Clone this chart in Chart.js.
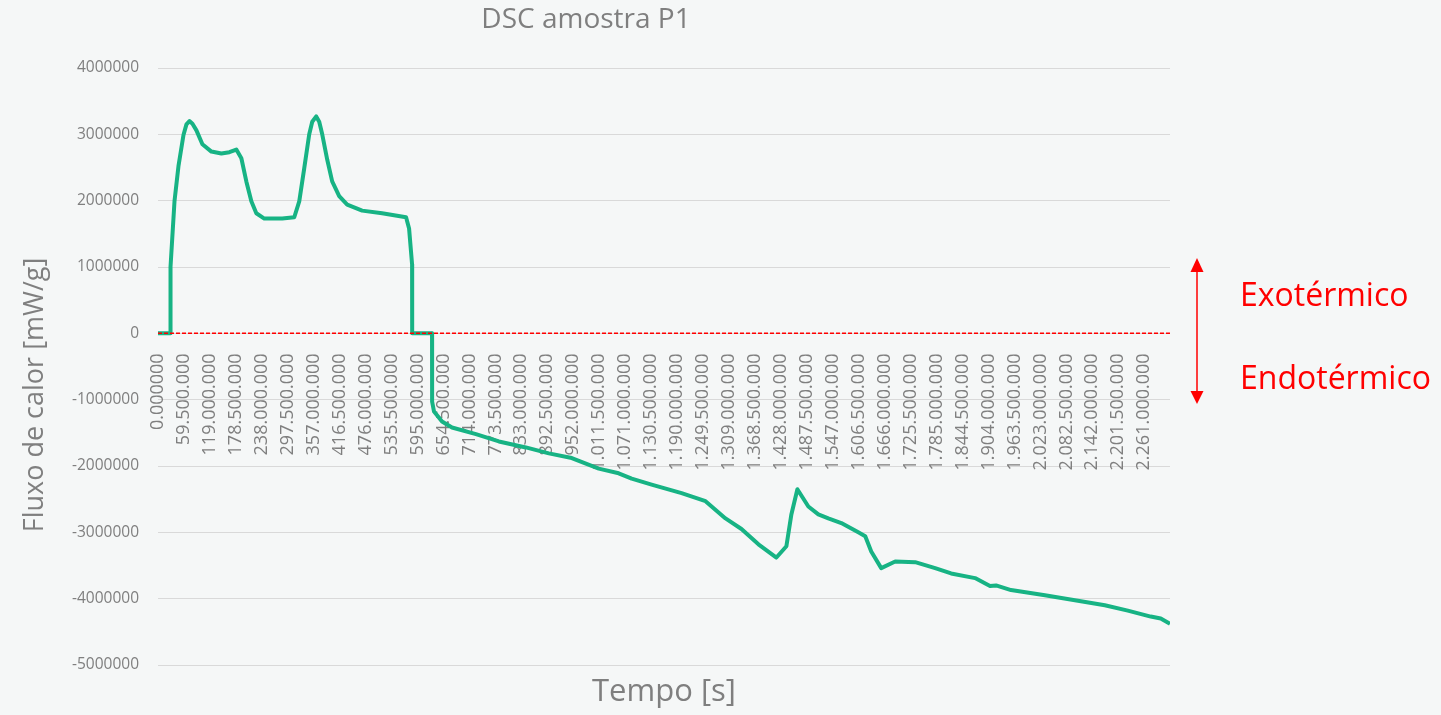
<!DOCTYPE html>
<html>
<head>
<meta charset="utf-8">
<script src="https://cdn.jsdelivr.net/npm/chart.js@4/dist/chart.umd.min.js"></script>
<style>
  body { margin: 0; background: #f5f7f7; }
  #wrap { width: 1441px; height: 715px; }
</style>
</head>
<body>
<div id="wrap"><canvas id="dsc"></canvas></div>
<script>
// tempo [s] (x 10^6) and fluxo de calor [mW/g] (x 10^6)
const tempo = [0, 28.6, 28.7, 37.8, 46.9, 58.4, 65.2, 72.1, 79.0, 88.1,
  101.8, 122.4, 145.3, 163.6, 179.6,
  191.1, 202.5, 214.0, 225.4, 243.7, 284.9, 312.4, 323.8, 335.3, 346.7,
  353.6, 362.7, 369.6, 376.5, 387.9, 399.3, 415.4, 433.7, 468.0, 513.8, 568.7,
  575.6, 582.5, 582.7, 628.2, 628.4, 632.8, 651.1, 674.0, 728.9, 781.5,
  843.3, 896.0, 948.6, 1010.4, 1056.1, 1085.9, 1131.6, 1200.3, 1255.2, 1301.0,
  1337.6, 1376.5, 1417.7, 1440.6, 1452.0, 1465.8, 1490.9, 1513.8, 1536.7, 1566.5,
  1605.4, 1621.4, 1635.1, 1658.0, 1690.0, 1735.8, 1781.6, 1818.2, 1873.1, 1907.4,
  1921.2, 1955.5, 2033.3, 2108.9, 2170.6, 2223.3, 2275.9, 2298.8, 2320.0];
const fluxo = [0, 0, 1.00, 1.99, 2.52, 2.99, 3.15, 3.20, 3.16, 3.06,
  2.85, 2.74, 2.71, 2.73, 2.77,
  2.64, 2.29, 1.99, 1.81, 1.73, 1.73, 1.75, 1.99, 2.49, 3.00,
  3.19, 3.27, 3.19, 3.00, 2.62, 2.29, 2.07, 1.94, 1.85, 1.81, 1.75,
  1.58, 1.04, 0, 0, -1.03, -1.18, -1.33, -1.42, -1.52, -1.63,
  -1.72, -1.81, -1.88, -2.04, -2.11, -2.19, -2.28, -2.41, -2.53, -2.79,
  -2.95, -3.18, -3.38, -3.21, -2.73, -2.35, -2.61, -2.73, -2.79, -2.86,
  -3.00, -3.06, -3.29, -3.54, -3.44, -3.45, -3.54, -3.62, -3.69, -3.81,
  -3.80, -3.87, -3.95, -4.03, -4.10, -4.18, -4.27, -4.30, -4.38];

const tempoTicks = ["0.000000", "59.500.000", "119.000.000", "178.500.000", "238.000.000",
  "297.500.000", "357.000.000", "416.500.000", "476.000.000", "535.500.000",
  "595.000.000", "654.500.000", "714.000.000", "773.500.000", "833.000.000",
  "892.500.000", "952.000.000", "1.011.500.000", "1.071.000.000", "1.130.500.000",
  "1.190.000.000", "1.249.500.000", "1.309.000.000", "1.368.500.000", "1.428.000.000",
  "1.487.500.000", "1.547.000.000", "1.606.500.000", "1.666.000.000", "1.725.500.000",
  "1.785.000.000", "1.844.500.000", "1.904.000.000", "1.963.500.000", "2.023.000.000",
  "2.082.500.000", "2.142.000.000", "2.201.500.000", "2.261.000.000"];
const fluxoMin = -5000000, fluxoMax = 4000000, fluxoStep = 1000000;

const gray = '#7f7f7f';
const font = '"Open Sans", sans-serif';

const points = tempo.map((t, i) => ({ x: t * 1e6, y: fluxo[i] * 1e6 }));
const tMax = tempo[tempo.length - 1] * 1e6;

// background, y title, chart title, exo/endo arrow
const extras = {
  id: 'extras',
  beforeDraw(chart) {
    const c = chart.ctx;
    c.save();
    c.fillStyle = '#f5f7f7';
    c.fillRect(0, 0, chart.width, chart.height);
    c.restore();
  },
  afterDraw(chart) {
    const c = chart.ctx;
    const a = chart.chartArea;
    c.save();
    c.fillStyle = gray;
    c.textAlign = 'center';
    c.textBaseline = 'middle';
    c.font = '28px ' + font;
    c.fillText('DSC amostra P1', 586, 20);

    c.save();
    c.translate(35, 395);
    c.rotate(-Math.PI / 2);
    c.font = '27px ' + font;
    c.fillText('Fluxo de calor [mW/g]', 0, 0);
    c.restore();

    const ax = a.right + 27, top = 258, bot = 404;
    c.strokeStyle = '#ff0000';
    c.fillStyle = '#ff0000';
    c.lineWidth = 1.5;
    c.beginPath();
    c.moveTo(ax, top + 10);
    c.lineTo(ax, bot - 10);
    c.stroke();
    c.beginPath();
    c.moveTo(ax, top); c.lineTo(ax - 6.5, top + 14); c.lineTo(ax + 6.5, top + 14);
    c.closePath(); c.fill();
    c.beginPath();
    c.moveTo(ax, bot); c.lineTo(ax - 6.5, bot - 13); c.lineTo(ax + 6.5, bot - 13);
    c.closePath(); c.fill();

    c.textAlign = 'left';
    c.font = '32px ' + font;
    c.fillText('Exotérmico', a.right + 70, 297);
    c.fillText('Endotérmico', a.right + 70, 380);
    c.restore();
  }
};

new Chart(document.getElementById('dsc'), {
  type: 'line',
  data: {
    datasets: [
      {
        label: 'DSC amostra P1',
        data: points,
        borderColor: '#17b384',
        borderWidth: 4,
        borderJoinStyle: 'round',
        pointRadius: 0,
        tension: 0,
        order: 2
      },
      {
        label: 'zero',
        data: [{ x: tempo[0] * 1e6, y: 0 }, { x: tMax, y: 0 }],
        borderColor: '#ff0000',
        borderWidth: 1.5,
        borderDash: [4, 2],
        pointRadius: 0,
        order: 1
      }
    ]
  },
  options: {
    responsive: true,
    maintainAspectRatio: false,
    animation: false,
    layout: { padding: { top: 68, right: 271, left: 0, bottom: 0 } },
    plugins: {
      legend: { display: false },
      tooltip: { enabled: false }
    },
    scales: {
      x: {
        type: 'linear',
        position: { y: 0 },
        min: 0,
        max: tMax,
        afterBuildTicks: (s) => {
          s.ticks = tempoTicks.map(t => ({ value: Number(t.replace(/\./g, '')) }));
        },
        grid: { display: false },
        border: { display: false },
        ticks: {
          autoSkip: false,
          minRotation: 90,
          maxRotation: 90,
          padding: 12,
          color: gray,
          font: { family: font, size: 18 },
          callback: (v, i) => tempoTicks[i]
        }
      },
      x2: {
        type: 'linear',
        position: 'bottom',
        afterFit: (s) => { s.height = 50; },
        grid: { display: false },
        border: { display: false },
        ticks: { display: false },
        title: {
          display: true,
          text: 'Tempo [s]',
          color: gray,
          font: { family: font, size: 31 },
          padding: { top: 0, bottom: 4 }
        }
      },
      y: {
        min: fluxoMin,
        max: fluxoMax,
        afterFit: (s) => { s.width = 158; },
        grid: { color: '#d9d9d9', drawTicks: false },
        border: { display: false },
        ticks: {
          stepSize: fluxoStep,
          padding: 19,
          color: gray,
          font: { family: font, size: 15.5 },
          callback: (v) => String(v)
        }
      }
    }
  },
  plugins: [extras]
});
</script>
</body>
</html>
